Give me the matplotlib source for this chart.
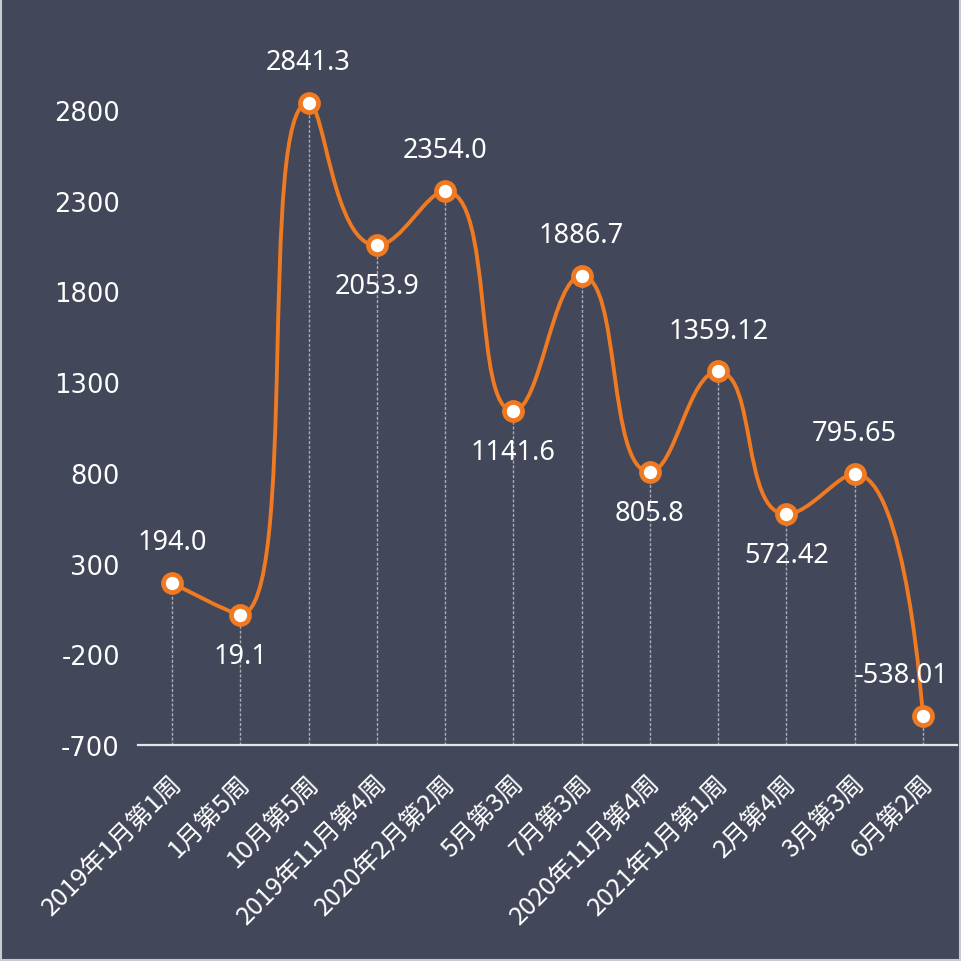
import numpy as np
import matplotlib
matplotlib.use("Agg")
import matplotlib.pyplot as plt
from matplotlib.path import Path
from matplotlib.patches import PathPatch
from matplotlib import transforms

categories = ["2019年1月第1周", "1月第5周", "10月第5周", "2019年11月第4周", "2020年2月第2周",
              "5月第3周", "7月第3周", "2020年11月第4周", "2021年1月第1周", "2月第4周",
              "3月第3周", "6月第2周"]
values = [194.0, 19.1, 2841.3, 2053.9, 2354.0, 1141.6, 1886.7, 805.8, 1359.12, 572.42, 795.65, -538.01]
value_labels = ["194.0", "19.1", "2841.3", "2053.9", "2354.0", "1141.6", "1886.7", "805.8",
                "1359.12", "572.42", "795.65", "-538.01"]
label_pos = ["above", "below", "above", "below", "above", "below", "above", "below",
             "above", "below", "above", "aboveleft"]
yticks = [-700, -200, 300, 800, 1300, 1800, 2300, 2800]

BG = "#424759"
ORANGE = "#F07A22"

W = H = 962
fig = plt.figure(figsize=(W / 100, H / 100), dpi=100, facecolor=BG)
ax = fig.add_axes([138 / W, (H - 746) / H, (957 - 138) / W, (746 - 20.4) / H])
ax.set_facecolor(BG)
n = len(values)
x = np.arange(n)
ax.set_xlim(-0.5, n - 0.5)
ax.set_ylim(-700, 3300)

for s in ["top", "right", "left"]:
    ax.spines[s].set_visible(False)
ax.spines["bottom"].set_color("#e6e6e6")
ax.spines["bottom"].set_linewidth(1.6)

ax.set_yticks(yticks)
ax.set_yticklabels([str(t) for t in yticks], color="white", fontsize=18.5, family="DejaVu Sans")
ax.tick_params(axis="y", length=0, pad=13)
ax.set_xticks(x)
ax.set_xticklabels(categories, rotation=45, ha="right", va="center", rotation_mode="anchor",
                   color="white", fontsize=18.3, family=["Noto Sans CJK SC", "DejaVu Sans"])
ax.tick_params(axis="x", length=0, pad=24)
shift = transforms.ScaledTranslation(6 / 100, 0, fig.dpi_scale_trans)
for lbl in ax.get_xticklabels():
    lbl.set_transform(lbl.get_transform() + shift)

# dashed drop lines
for xi, v in zip(x, values):
    ax.plot([xi, xi], [-700, v], color="#a9adb8", lw=1.0, ls=(0, (2.2, 1.3)), zorder=2)

# smooth curve (echarts-style bezier with extreme constraints), built in display space
pts = ax.transData.transform(np.column_stack([x, values]))
smooth = 0.5
verts = [tuple(pts[0])]
codes = [Path.MOVETO]
cp0 = pts[0].copy()
for i in range(1, n):
    px_, py_ = pts[i - 1]
    xx, yy = pts[i]
    if i == n - 1:
        cp1 = np.array([xx, yy])
        ncp0 = np.array([xx, yy])
    else:
        nx_, ny_ = pts[i + 1]
        vx, vy = nx_ - px_, ny_ - py_
        lp = np.hypot(xx - px_, yy - py_)
        ln = np.hypot(nx_ - xx, ny_ - yy)
        r = ln / (ln + lp)
        ncx = xx + vx * smooth * r
        ncy = yy + vy * smooth * r
        ncx = min(ncx, max(nx_, xx)); ncy = min(ncy, max(ny_, yy))
        ncx = max(ncx, min(nx_, xx)); ncy = max(ncy, min(ny_, yy))
        vx, vy = ncx - xx, ncy - yy
        c1x = xx - vx * lp / ln
        c1y = yy - vy * lp / ln
        c1x = min(c1x, max(px_, xx)); c1y = min(c1y, max(py_, yy))
        c1x = max(c1x, min(px_, xx)); c1y = max(c1y, min(py_, yy))
        vx, vy = xx - c1x, yy - c1y
        ncx = xx + vx * ln / lp
        ncy = yy + vy * ln / lp
        cp1 = np.array([c1x, c1y])
        ncp0 = np.array([ncx, ncy])
    verts += [tuple(cp0), tuple(cp1), (xx, yy)]
    codes += [Path.CURVE4] * 3
    cp0 = ncp0
path = Path(verts, codes)
patch = PathPatch(path, transform=transforms.IdentityTransform(), facecolor="none",
                  edgecolor=ORANGE, lw=2.8, zorder=3, capstyle="round", joinstyle="round")
ax.add_patch(patch)

ax.plot(x, values, ls="none", marker="o", ms=13, mfc="white", mec=ORANGE, mew=3.4, zorder=4)

for xi, v, lab, pos in zip(x, values, value_labels, label_pos):
    if pos == "above":
        off = (0, 29.5)
    elif pos == "below":
        off = (0, -29.5)
    else:
        off = (-15, 29.5)
    ax.annotate(lab, (xi, v), xytext=off, textcoords="offset points", ha="center", va="center",
                color="white", fontsize=19.5, family="Noto Sans", zorder=5)

# figure border (light on left, right, bottom)
fig.add_artist(plt.Line2D([1 / W, 1 / W], [0, 1], color="#c9cbd2", lw=1.5, transform=fig.transFigure))
fig.add_artist(plt.Line2D([1 - 2 / W, 1 - 2 / W], [0, 1], color="#c9cbd2", lw=1.5, transform=fig.transFigure))
fig.add_artist(plt.Line2D([0, 1], [1.5 / H, 1.5 / H], color="#c9cbd2", lw=1.5, transform=fig.transFigure))

fig.savefig("out.png", dpi=100, facecolor=BG)
